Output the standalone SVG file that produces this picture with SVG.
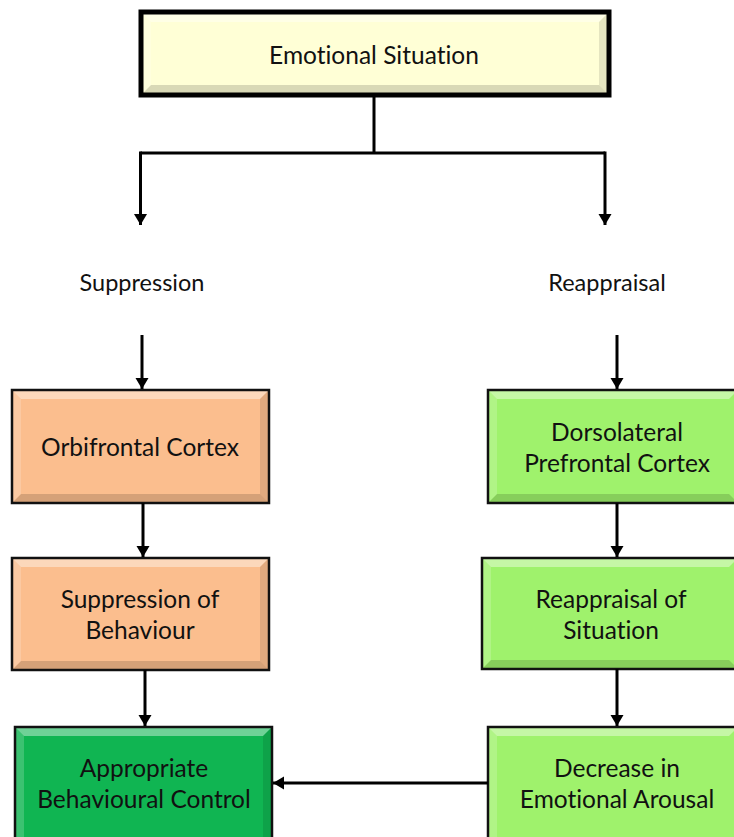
<svg xmlns="http://www.w3.org/2000/svg" width="734" height="837" viewBox="0 0 734 837">
  <style>
    .lbl { font-family: Lato, "Liberation Sans", sans-serif; font-size: 24.5px; fill: #111; text-anchor: middle; font-variant-ligatures: none; font-feature-settings: "liga" 0; }
    .edge { stroke: #000; stroke-width: 3; fill: none; }
    .hi { fill: #fff; opacity: 0.4; }
    .lo { fill: #000; opacity: 0.15; }
    .sideL { fill: #fff; opacity: 0.18; }
    .sideR { fill: #000; opacity: 0.1; }
    .frame { fill: none; stroke: #111; stroke-width: 2.5; }
  </style>
  <defs>
    <marker id="arrow" markerUnits="userSpaceOnUse" markerWidth="14" markerHeight="14" viewBox="0 0 14 14" refX="11" refY="7" orient="auto">
      <path d="M0,0.5 L11,7 L0,13.5 Z" fill="#000"/>
    </marker>
  </defs>
  <rect width="734" height="837" fill="#fff"/>

  <!-- top node -->
  <g id="emotional-situation">
    <rect x="141" y="12" width="468" height="83" fill="#FFFFD6"/>
    <polygon class="hi" points="141,12 609,12 599,22 151,22"/>
    <polygon class="lo" points="141,95 609,95 599,85 151,85"/>
    <polygon class="sideL" points="141,12 151,22 151,85 141,95"/>
    <polygon class="sideR" points="609,12 599,22 599,85 609,95"/>
    <rect x="141" y="12" width="468" height="83" fill="none" stroke="#000" stroke-width="5"/>
    <text class="lbl" x="374" y="64">Emotional Situation</text>
  </g>

  <g id="suppression-label">
    <text class="lbl" x="142" y="291" style="font-size:23.5px">Suppression</text>
  </g>
  <g id="reappraisal-label">
    <text class="lbl" x="607" y="291" style="font-size:23.5px">Reappraisal</text>
  </g>

  <!-- left column -->
  <g id="orbifrontal-cortex">
    <rect x="12" y="390" width="257" height="113" fill="#FBBE8E"/>
    <polygon class="hi" points="12,390 269,390 260,399 21,399"/>
    <polygon class="lo" points="12,503 269,503 260,494 21,494"/>
    <polygon class="sideL" points="12,390 21,399 21,494 12,503"/>
    <polygon class="sideR" points="269,390 260,399 260,494 269,503"/>
    <rect class="frame" x="12" y="390" width="257" height="113"/>
    <text class="lbl" x="140" y="456">Orbifrontal Cortex</text>
  </g>
  <g id="suppression-of-behaviour">
    <rect x="12" y="558" width="257" height="112" fill="#FBBE8E"/>
    <polygon class="hi" points="12,558 269,558 260,567 21,567"/>
    <polygon class="lo" points="12,670 269,670 260,661 21,661"/>
    <polygon class="sideL" points="12,558 21,567 21,661 12,670"/>
    <polygon class="sideR" points="269,558 260,567 260,661 269,670"/>
    <rect class="frame" x="12" y="558" width="257" height="112"/>
    <text class="lbl" x="140" y="608">Suppression of</text>
    <text class="lbl" x="140" y="639">Behaviour</text>
  </g>
  <g id="appropriate-behavioural-control">
    <rect x="15" y="727" width="257" height="115" fill="#10B552"/>
    <polygon class="hi" points="15,727 272,727 263,736 24,736"/>
    <polygon class="sideL" points="15,727 24,736 24,842 15,842"/>
    <polygon class="sideR" points="272,727 263,736 263,842 272,842"/>
    <rect class="frame" x="15" y="727" width="257" height="115"/>
    <text class="lbl" x="144" y="777">Appropriate</text>
    <text class="lbl" x="144" y="808">Behavioural Control</text>
  </g>

  <!-- right column -->
  <g id="dorsolateral-prefrontal-cortex">
    <rect x="488" y="390" width="250" height="113" fill="#9FF26C"/>
    <polygon class="hi" points="488,390 738,390 729,399 497,399"/>
    <polygon class="lo" points="488,503 738,503 729,494 497,494"/>
    <polygon class="sideL" points="488,390 497,399 497,494 488,503"/>
    <rect class="frame" x="488" y="390" width="250" height="113"/>
    <text class="lbl" x="617" y="441">Dorsolateral</text>
    <text class="lbl" x="617" y="472">Prefrontal Cortex</text>
  </g>
  <g id="reappraisal-of-situation">
    <rect x="482" y="558" width="256" height="111" fill="#9FF26C"/>
    <polygon class="hi" points="482,558 738,558 729,567 491,567"/>
    <polygon class="lo" points="482,669 738,669 729,660 491,660"/>
    <polygon class="sideL" points="482,558 491,567 491,660 482,669"/>
    <rect class="frame" x="482" y="558" width="256" height="111"/>
    <text class="lbl" x="611" y="608">Reappraisal of</text>
    <text class="lbl" x="611" y="639">Situation</text>
  </g>
  <g id="decrease-in-emotional-arousal">
    <rect x="488" y="727" width="250" height="115" fill="#9FF26C"/>
    <polygon class="hi" points="488,727 738,727 729,736 497,736"/>
    <polygon class="sideL" points="488,727 497,736 497,842 488,842"/>
    <rect class="frame" x="488" y="727" width="250" height="115"/>
    <text class="lbl" x="617" y="777">Decrease in</text>
    <text class="lbl" x="617" y="808">Emotional Arousal</text>
  </g>

  <!-- connectors -->
  <g id="connectors">
    <path class="edge" d="M374,97 L374,153 M140.5,153 L605,153"/>
    <path class="edge" d="M140.5,151.5 L140.5,225" marker-end="url(#arrow)"/>
    <path class="edge" d="M605,151.5 L605,225" marker-end="url(#arrow)"/>
    <path class="edge" d="M142,335 L142,389" marker-end="url(#arrow)"/>
    <path class="edge" d="M617,335 L617,389" marker-end="url(#arrow)"/>
    <path class="edge" d="M143,503 L143,557" marker-end="url(#arrow)"/>
    <path class="edge" d="M617,503 L617,557" marker-end="url(#arrow)"/>
    <path class="edge" d="M145,670 L145,726" marker-end="url(#arrow)"/>
    <path class="edge" d="M617,669 L617,726" marker-end="url(#arrow)"/>
    <path class="edge" d="M488,783 L273,783" marker-end="url(#arrow)"/>
  </g>
</svg>
